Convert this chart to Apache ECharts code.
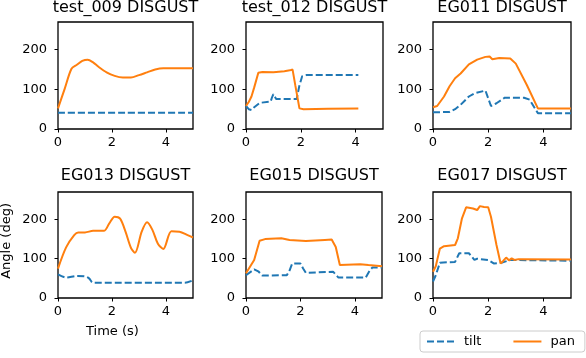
<!DOCTYPE html>
<html>
<head>
<meta charset="utf-8">
<script src="https://cdn.jsdelivr.net/npm/echarts@6/dist/echarts.min.js"></script>
<style>
  html, body { margin: 0; padding: 0; background: #fff; }
  #main { width: 586px; height: 358px; }
</style>
</head>
<body>
<div id="main"></div>
<script>
// 每个子图的标题
var titles = ['test_009 DISGUST', 'test_012 DISGUST', 'EG011 DISGUST',
              'EG013 DISGUST', 'EG015 DISGUST', 'EG017 DISGUST'];

// test_009
var t009Pan = [0, 0.25, 0.5, 0.7, 0.9, 1.1, 1.3, 1.5, 1.8, 2.1, 2.4, 2.7, 3.0, 3.3, 3.6, 3.9, 4.2, 5];
var pan009 = [52, 102, 152, 162, 172, 175, 168, 157, 143, 134, 130, 130, 136, 143, 150, 153, 153, 153];
var t009Tilt = [0, 2.5, 5];
var tilt009 = [41, 41, 41];

// test_012
var t012Pan = [0, 0.1, 0.2, 0.3, 0.45, 0.6, 1.0, 1.4, 1.6, 1.7, 1.8, 1.95, 2.1, 3.0, 4.1];
var pan012 = [58, 68, 82, 105, 142, 144, 143, 146, 148, 150, 110, 52, 50, 51, 52];
var t012Tilt = [0, 0.1, 0.2, 0.3, 0.5, 0.9, 0.95, 1.0, 1.1, 1.5, 1.85, 1.95, 2.05, 2.2, 4.1];
var tilt012 = [58, 50, 48, 55, 66, 69, 80, 88, 76, 76, 76, 110, 133, 136, 136];

// EG011
var t011Pan = [0, 0.15, 0.4, 0.6, 0.8, 1.0, 1.3, 1.6, 1.9, 2.05, 2.15, 2.4, 2.8, 3.0, 3.4, 3.8, 5];
var pan011 = [55, 58, 82, 108, 128, 140, 163, 175, 182, 183, 176, 179, 178, 165, 111, 52, 52];
var t011Tilt = [0, 0.6, 0.8, 1.0, 1.3, 1.5, 1.9, 1.97, 2.1, 2.3, 2.6, 3.3, 3.5, 3.8, 5];
var tilt011 = [42, 43, 50, 61, 82, 90, 97, 95, 58, 65, 79, 79, 74, 40, 40];

// EG013
var t013Pan = [0, 0.3, 0.6, 0.75, 1.0, 1.3, 1.7, 1.9, 2.1, 2.3, 2.5, 2.7, 2.85, 3.1, 3.3, 3.5, 3.7, 3.9, 4.2, 4.5, 4.8, 5];
var pan013 = [75, 129, 160, 167, 167, 171, 171, 190, 207, 202, 169, 128, 115, 169, 193, 173, 138, 125, 170, 169, 160, 154];
var t013Tilt = [0, 0.3, 0.7, 1.0, 1.15, 1.3, 4.7, 5];
var tilt013 = [60, 52, 56, 55, 50, 39, 39, 45];

// EG015
var t015Pan = [0, 0.3, 0.5, 0.7, 1.3, 1.6, 2.2, 2.9, 3.15, 3.3, 3.45, 4.2, 4.5, 5];
var pan015 = [63, 97, 146, 150, 152, 148, 145, 148, 149, 130, 84, 86, 84, 81];
var t015Tilt = [0, 0.3, 0.45, 0.6, 1.5, 1.6, 1.7, 2.0, 2.1, 2.2, 3.2, 3.4, 4.4, 4.55, 4.65, 5];
var tilt015 = [58, 73, 68, 57, 58, 70, 88, 88, 75, 64, 67, 52, 52, 70, 78, 78];

// EG017
var t017Pan = [0, 0.1, 0.25, 0.4, 0.8, 0.9, 1.05, 1.2, 1.45, 1.6, 1.7, 1.85, 2.0, 2.1, 2.3, 2.45, 2.55, 2.65, 2.75, 2.85, 2.95, 3.1, 5];
var pan017 = [67, 81, 126, 132, 135, 152, 203, 231, 228, 224, 234, 232, 231, 207, 135, 88, 95, 103, 96, 101, 97, 99, 98];
var t017Tilt = [0, 0.1, 0.25, 0.8, 0.95, 1.3, 1.5, 1.6, 2.0, 2.2, 2.5, 2.8, 5];
var tilt017 = [42, 58, 90, 92, 114, 114, 97, 100, 97, 88, 90, 97, 95];

var xTicks = [0, 2, 4];
var yTicks = [0, 100, 200];

var panList = [[t009Pan, pan009], [t012Pan, pan012], [t011Pan, pan011],
               [t013Pan, pan013], [t015Pan, pan015], [t017Pan, pan017]];
var tiltList = [[t009Tilt, tilt009], [t012Tilt, tilt012], [t011Tilt, tilt011],
                [t013Tilt, tilt013], [t015Tilt, tilt015], [t017Tilt, tilt017]];
var smoothList = [0.3, 0, 0, 0.3, 0, 0];

// 网格位置
var gridBoxes = [
    [58, 22, 135, 107], [246, 22, 137, 107], [433, 22, 138, 107],
    [58, 192, 135, 106], [246, 192, 136, 106], [433, 192, 138, 106]
];

var FONT = 'DejaVu Sans';
var BLUE = '#1f77b4';
var ORANGE = '#ff7f0e';

function zip(xs, ys) {
    return xs.map(function(x, i) { return [x, ys[i]]; });
}

var chart = echarts.init(document.getElementById('main'));

var grids = [], xAxes = [], yAxes = [], series = [], titleList = [];
gridBoxes.forEach(function(b, i) {
    grids.push({
        left: b[0], top: b[1], width: b[2], height: b[3],
        show: true, borderColor: '#000', borderWidth: 1.3, backgroundColor: 'transparent'
    });
    titleList.push({
        text: titles[i],
        left: b[0] + b[2] / 2,
        top: i < 3 ? 0 : 168,
        textAlign: 'center',
        padding: 0,
        textStyle: { fontFamily: FONT, fontSize: 16, fontWeight: 'normal', color: '#000' }
    });
    xAxes.push({
        type: 'value', gridIndex: i, min: 0, max: 5, interval: 2,
        axisLine: { show: false },
        axisTick: { show: true, length: 3.5, customValues: xTicks, lineStyle: { color: '#000', width: 1 } },
        axisLabel: { customValues: xTicks, margin: 7, color: '#000', fontFamily: FONT, fontSize: 13 },
        splitLine: { show: false }
    });
    yAxes.push({
        type: 'value', gridIndex: i, min: 0, max: 270, interval: 100,
        axisLine: { show: false },
        axisTick: { show: true, length: 3.5, customValues: yTicks, lineStyle: { color: '#000', width: 1 } },
        axisLabel: { customValues: yTicks, margin: 11, color: '#000', fontFamily: FONT, fontSize: 13 },
        splitLine: { show: false }
    });
    series.push({
        name: 'tilt', type: 'line', xAxisIndex: i, yAxisIndex: i,
        data: zip(tiltList[i][0], tiltList[i][1]),
        symbol: 'none', smooth: smoothList[i],
        lineStyle: { color: BLUE, width: 2, type: [7, 3] },
        itemStyle: { color: BLUE }
    });
    series.push({
        name: 'pan', type: 'line', xAxisIndex: i, yAxisIndex: i,
        data: zip(panList[i][0], panList[i][1]),
        symbol: 'none', smooth: smoothList[i],
        lineStyle: { color: ORANGE, width: 2 },
        itemStyle: { color: ORANGE }
    });
});

chart.setOption({
    animation: false,
    backgroundColor: '#fff',
    title: titleList,
    grid: grids,
    xAxis: xAxes,
    yAxis: yAxes,
    series: series,
    legend: {
        data: ['tilt', 'pan'],
        left: 420, top: 331,
        padding: [4, 10, 4, 6],
        borderColor: '#ccc', borderWidth: 1, borderRadius: 3,
        itemWidth: 28, itemHeight: 12, itemGap: 31,
        itemStyle: { opacity: 0 },
        textStyle: { fontFamily: FONT, fontSize: 13, color: '#000', padding: [0, 0, 0, 4] }
    },
    graphic: [
        { type: 'text', left: 113 - 27, top: 325,
          style: { text: 'Time (s)', fontFamily: FONT, fontSize: 13, fill: '#000' } },
        { type: 'text', left: 0, top: 245 - 42, rotation: Math.PI / 2,
          style: { text: 'Angle (deg)', fontFamily: FONT, fontSize: 13, fill: '#000' } }
    ]
});
</script>
</body>
</html>
